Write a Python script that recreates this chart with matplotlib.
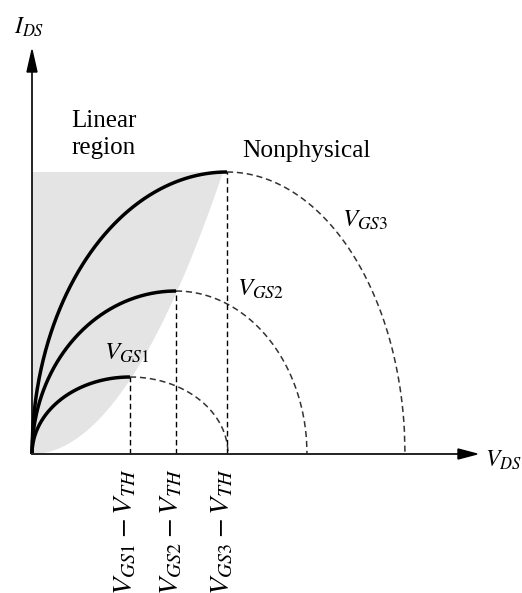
import numpy as np
import matplotlib
matplotlib.use("Agg")
import matplotlib.pyplot as plt
from matplotlib.patches import Polygon

plt.rcParams["mathtext.fontset"] = "stix"
plt.rcParams["font.family"] = "Liberation Serif"

# valores (unidades arbitrarias)
curvas = ["VGS1", "VGS2", "VGS3"]
v_sat = [98, 144, 195]      # V_GS - V_TH
i_pico = [77, 163, 282]     # corriente maxima
v_fin = [196, 275, 373]     # donde la rama punteada vuelve a cero
etiquetas_x = [r"$V_{GS1}-V_{TH}$", r"$V_{GS2}-V_{TH}$", r"$V_{GS3}-V_{TH}$"]
etiquetas_curva = [r"$V_{GS1}$", r"$V_{GS2}$", r"$V_{GS3}$"]
pos_etiqueta = [(95, 101), (229, 165), (333, 234)]

fig = plt.figure(figsize=(5.22, 5.93), dpi=100)
ax = fig.add_axes([0, 0, 1, 1])
ax.set_xlim(-32, 490)
ax.set_ylim(-139, 454)
ax.axis("off")

# region lineal sombreada
tope = max(i_pico)
k = tope / 191 ** 2
vs = np.linspace(0, 191, 100)
borde = np.column_stack([vs, k * vs ** 2])
puntos = np.vstack([[[0, 0]], borde, [[0, tope]]])
ax.add_patch(Polygon(puntos, closed=True, facecolor="#e4e4e4", edgecolor="none", zorder=0))

for vo, ip, vf in zip(v_sat, i_pico, v_fin):
    # tramo solido: cuarto de elipse hasta el pico
    v1 = np.linspace(0, vo, 300)
    ax.plot(v1, ip * np.sqrt(np.clip(1 - (1 - v1 / vo) ** 2, 0, 1)), color="black",
            lw=2.5, zorder=3, solid_capstyle="butt")
    # tramo punteado: cuarto de elipse hasta cero
    v2 = np.linspace(vo, vf, 300)
    ax.plot(v2, ip * np.sqrt(np.clip(1 - ((v2 - vo) / (vf - vo)) ** 2, 0, 1)),
            color="#333333", lw=1.1, dashes=(4, 2.5), zorder=2)
    ax.plot([vo, vo], [0, ip], color="black", lw=1.0, dashes=(4, 2.5), zorder=2)

# ejes con flechas
ax.plot([0, 0], [0, 384], color="black", lw=1.2, zorder=4)
ax.plot([0, 428], [0, 0], color="#222222", lw=1.4, zorder=4)
ax.add_patch(Polygon([[0, 404], [-5, 382], [5, 382]], closed=True, color="black", zorder=4))
ax.add_patch(Polygon([[445, 0], [426, -5], [426, 5]], closed=True, color="black", zorder=4))

ax.text(-3, 427, r"$I_{DS}$", fontsize=17, ha="center", va="center")
ax.text(453, -6, r"$V_{DS}$", fontsize=17, ha="left", va="center")

ax.text(39, 327, "Linear", fontsize=18, ha="left", va="baseline")
ax.text(39, 300, "region", fontsize=18, ha="left", va="baseline")
ax.text(210, 297, "Nonphysical", fontsize=18.3, ha="left", va="baseline")

for (x, y), txt in zip(pos_etiqueta, etiquetas_curva):
    ax.text(x, y, txt, fontsize=18, ha="center", va="center")

for vo, txt in zip(v_sat, etiquetas_x):
    ax.text(vo - 4, -14, txt, fontsize=20.5, rotation=90, ha="center", va="top")

fig.savefig("out.png", dpi=100)
